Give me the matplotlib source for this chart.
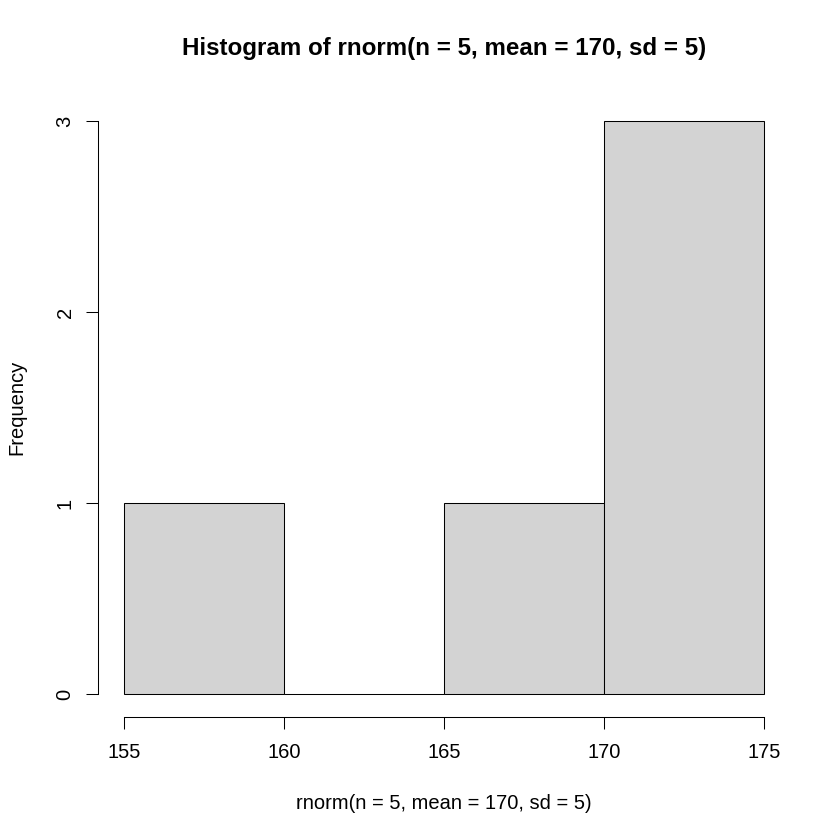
import numpy as np
import matplotlib
matplotlib.use("Agg")
import matplotlib.pyplot as plt

breaks = [155, 160, 165, 170, 175]
counts = [1, 0, 1, 3]
x_ticks = [155, 160, 165, 170, 175]
y_ticks = [0, 1, 2, 3]
title = "Histogram of rnorm(n = 5, mean = 170, sd = 5)"
xlabel = "rnorm(n = 5, mean = 170, sd = 5)"
ylabel = "Frequency"

plt.rcParams['font.family'] = ['Liberation Sans', 'DejaVu Sans']

fig = plt.figure(figsize=(8.4, 8.4), dpi=100)
W = H = 840.0
left, right, top, bottom = 98.4, 789.6, 98.1, 716.9
ax = fig.add_axes([left / W, 1 - bottom / H, (right - left) / W, (bottom - top) / H])

b = np.array(breaks, dtype=float)
ax.bar(b[:-1], counts, width=np.diff(b), align='edge',
       facecolor='#D3D3D3', edgecolor='black', linewidth=0.75)

ax.set_xlim(b[0] - 0.04 * (b[-1] - b[0]), b[-1] + 0.04 * (b[-1] - b[0]))
ymax = max(counts)
ax.set_ylim(-0.04 * ymax, ymax * 1.04)

for s in ['top', 'right']:
    ax.spines[s].set_visible(False)
ax.spines['left'].set_bounds(y_ticks[0], y_ticks[-1])
ax.spines['bottom'].set_bounds(x_ticks[0], x_ticks[-1])
for s in ['left', 'bottom']:
    ax.spines[s].set_linewidth(0.75)

fs = 14.5
ax.set_xticks(x_ticks)
ax.set_xticklabels([str(v) for v in x_ticks])
ax.set_yticks(y_ticks)
ax.set_yticklabels([str(v) for v in y_ticks])
ax.tick_params(axis='both', direction='out', length=8.6, width=0.75, labelsize=fs)
ax.tick_params(axis='x', pad=10)
ax.tick_params(axis='y', pad=8.6)
plt.setp(ax.get_yticklabels(), rotation=90, va='center')

ax.set_xlabel(xlabel, fontsize=fs, va='top')
ax.xaxis.set_label_coords(0.5, (bottom - 794) / (bottom - top))
ax.set_ylabel(ylabel, fontsize=fs)
ax.yaxis.set_label_coords((26 - left) / (right - left), 0.5)

ax.set_title(title, fontsize=17.4, fontweight='bold', y=(bottom - 55) / (bottom - top), pad=0)

fig.savefig("out.png", dpi=100)
